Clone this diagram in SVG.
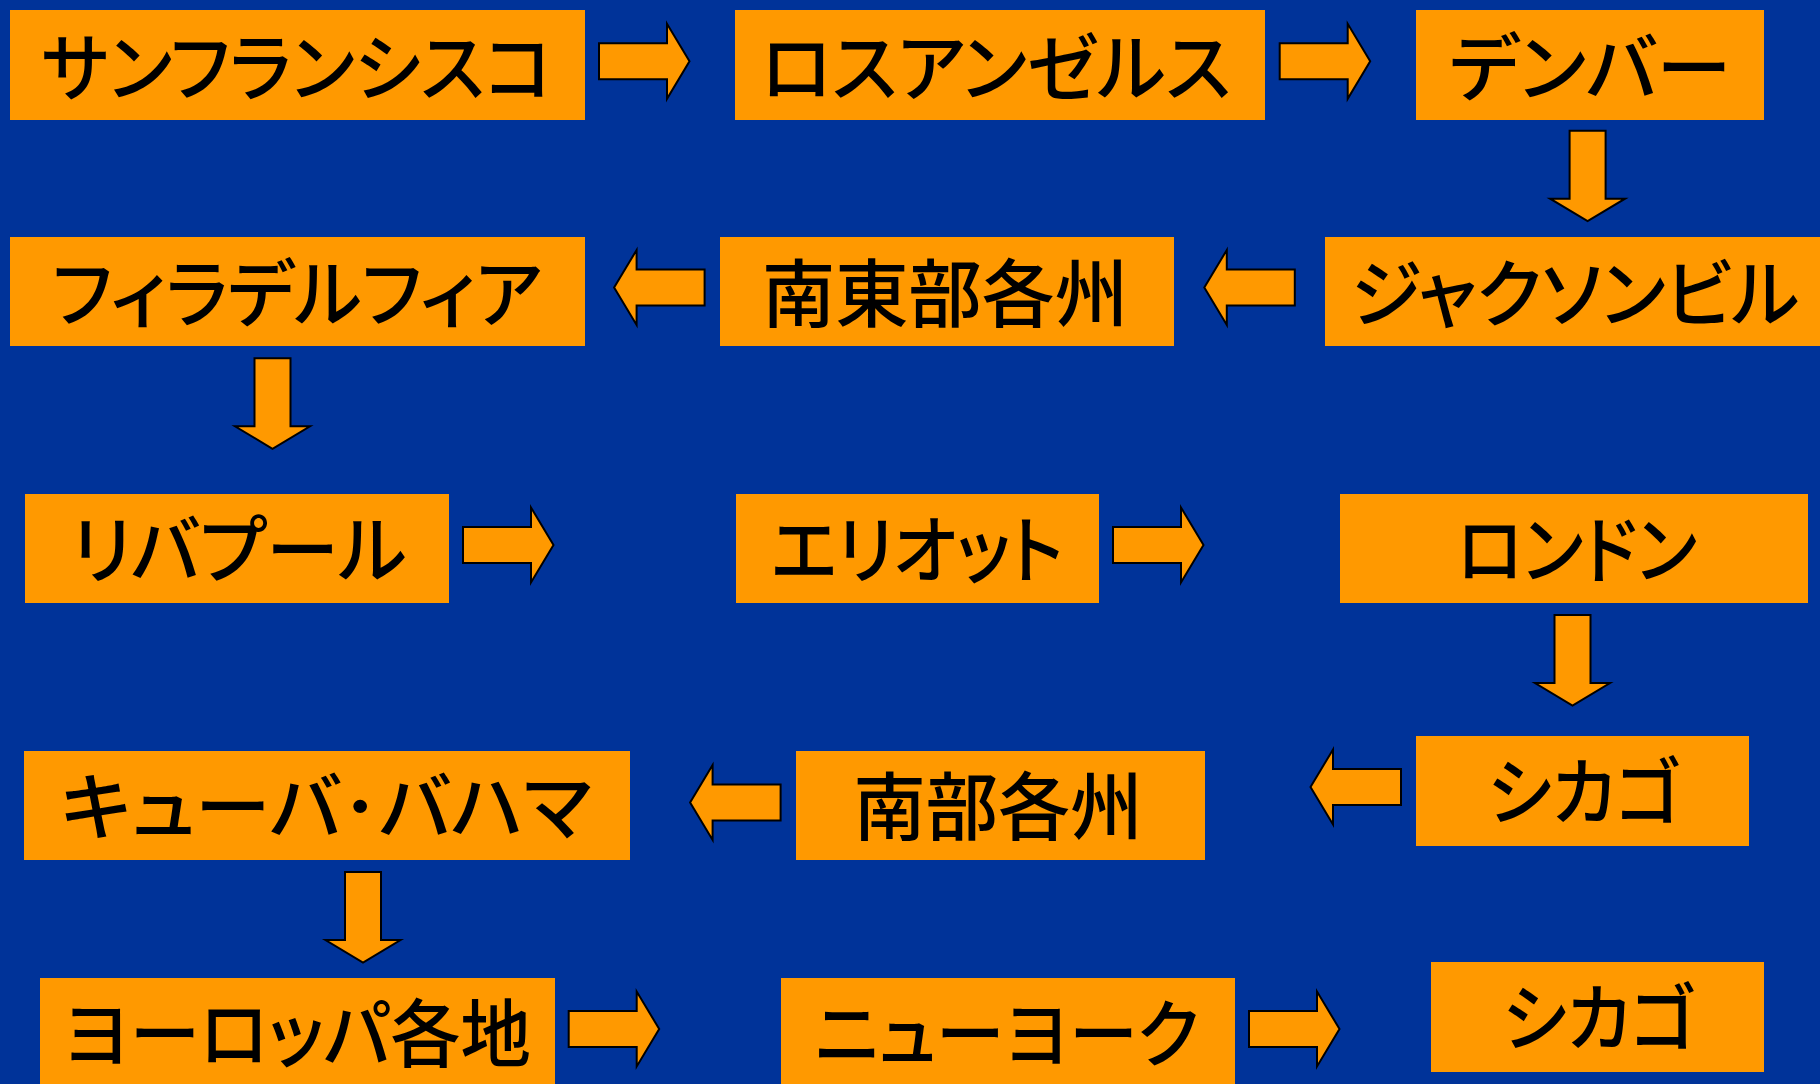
<svg xmlns="http://www.w3.org/2000/svg" xmlns:xlink="http://www.w3.org/1999/xlink" width="1820" height="1084" viewBox="0 0 1820 1084">
<style>
.box{fill:#FF9900;}
.lbl{font-family:"Noto Sans CJK JP","Noto Sans CJK SC",sans-serif;font-size:74px;font-weight:500;fill:#000;text-anchor:middle;font-feature-settings:"palt";}
.arr{fill:#FF9900;stroke:#000;stroke-width:2;stroke-linejoin:miter;}
</style>
<defs>
<polygon id="arrow" points="0,-18 68,-18 68,-37.5 90.5,0 68,37.5 68,18 0,18"/>
</defs>
<rect width="1820" height="1084" fill="#003399"/>
<g id="n1"><rect class="box" x="10" y="10" width="575" height="110"/><text class="lbl" x="297" y="95" textLength="511" lengthAdjust="spacingAndGlyphs">サンフランシスコ</text></g>
<g id="n2"><rect class="box" x="735" y="10" width="530" height="110"/><text class="lbl" x="996" y="95" textLength="470" lengthAdjust="spacingAndGlyphs">ロスアンゼルス</text></g>
<g id="n3"><rect class="box" x="1416" y="10" width="348" height="110"/><text class="lbl" x="1590" y="95" textLength="282" lengthAdjust="spacingAndGlyphs">デンバー</text></g>
<g id="n4"><rect class="box" x="10" y="237" width="575" height="109"/><text class="lbl" x="297" y="321" textLength="490" lengthAdjust="spacingAndGlyphs">フィラデルフィア</text></g>
<g id="n5"><rect class="box" x="720" y="237" width="454" height="109"/><text class="lbl" x="945" y="321" textLength="366" lengthAdjust="spacingAndGlyphs">南東部各州</text></g>
<g id="n6"><rect class="box" x="1325" y="237" width="500" height="109"/><text class="lbl" x="1575" y="321" textLength="449" lengthAdjust="spacingAndGlyphs">ジャクソンビル</text></g>
<g id="n7"><rect class="box" x="25" y="494" width="424" height="109"/><text class="lbl" x="239" y="577" textLength="335" lengthAdjust="spacingAndGlyphs">リバプール</text></g>
<g id="n8"><rect class="box" x="736" y="494" width="363" height="109"/><text class="lbl" x="917" y="577" textLength="292" lengthAdjust="spacingAndGlyphs">エリオット</text></g>
<g id="n9"><rect class="box" x="1340" y="494" width="468" height="109"/><text class="lbl" x="1577" y="577" textLength="240" lengthAdjust="spacingAndGlyphs">ロンドン</text></g>
<g id="n10"><rect class="box" x="24" y="751" width="606" height="109"/><text class="lbl" x="326" y="834" textLength="531" lengthAdjust="spacingAndGlyphs">キューバ･バハマ</text></g>
<g id="n11"><rect class="box" x="796" y="751" width="409" height="109"/><text class="lbl" x="998" y="834" textLength="289" lengthAdjust="spacingAndGlyphs">南部各州</text></g>
<g id="n12"><rect class="box" x="1416" y="736" width="333" height="110"/><text class="lbl" x="1584" y="819" textLength="193" lengthAdjust="spacingAndGlyphs">シカゴ</text></g>
<g id="n13"><rect class="box" x="40" y="978" width="515" height="110"/><text class="lbl" x="297" y="1061" textLength="468" lengthAdjust="spacingAndGlyphs">ヨーロッパ各地</text></g>
<g id="n14"><rect class="box" x="781" y="978" width="454" height="110"/><text class="lbl" x="1007" y="1061" textLength="384" lengthAdjust="spacingAndGlyphs">ニューヨーク</text></g>
<g id="n15"><rect class="box" x="1431" y="962" width="333" height="110"/><text class="lbl" x="1599" y="1045" textLength="193" lengthAdjust="spacingAndGlyphs">シカゴ</text></g>
<g id="connectors">
<use xlink:href="#arrow" class="arr" transform="translate(599,61.3)"/>
<use xlink:href="#arrow" class="arr" transform="translate(1279.7,61.3)"/>
<use xlink:href="#arrow" class="arr" transform="translate(1587.6,130.7) rotate(90)"/>
<use xlink:href="#arrow" class="arr" transform="translate(704.6,287.5) rotate(180)"/>
<use xlink:href="#arrow" class="arr" transform="translate(1294.8,287.5) rotate(180)"/>
<use xlink:href="#arrow" class="arr" transform="translate(272.5,358.3) rotate(90)"/>
<use xlink:href="#arrow" class="arr" transform="translate(463,545)"/>
<use xlink:href="#arrow" class="arr" transform="translate(1113,545)"/>
<use xlink:href="#arrow" class="arr" transform="translate(1572.5,615) rotate(90)"/>
<use xlink:href="#arrow" class="arr" transform="translate(780.6,802.5) rotate(180)"/>
<use xlink:href="#arrow" class="arr" transform="translate(1401,787) rotate(180)"/>
<use xlink:href="#arrow" class="arr" transform="translate(363,872) rotate(90)"/>
<use xlink:href="#arrow" class="arr" transform="translate(568.7,1029)"/>
<use xlink:href="#arrow" class="arr" transform="translate(1249,1029)"/>
</g>
</svg>
